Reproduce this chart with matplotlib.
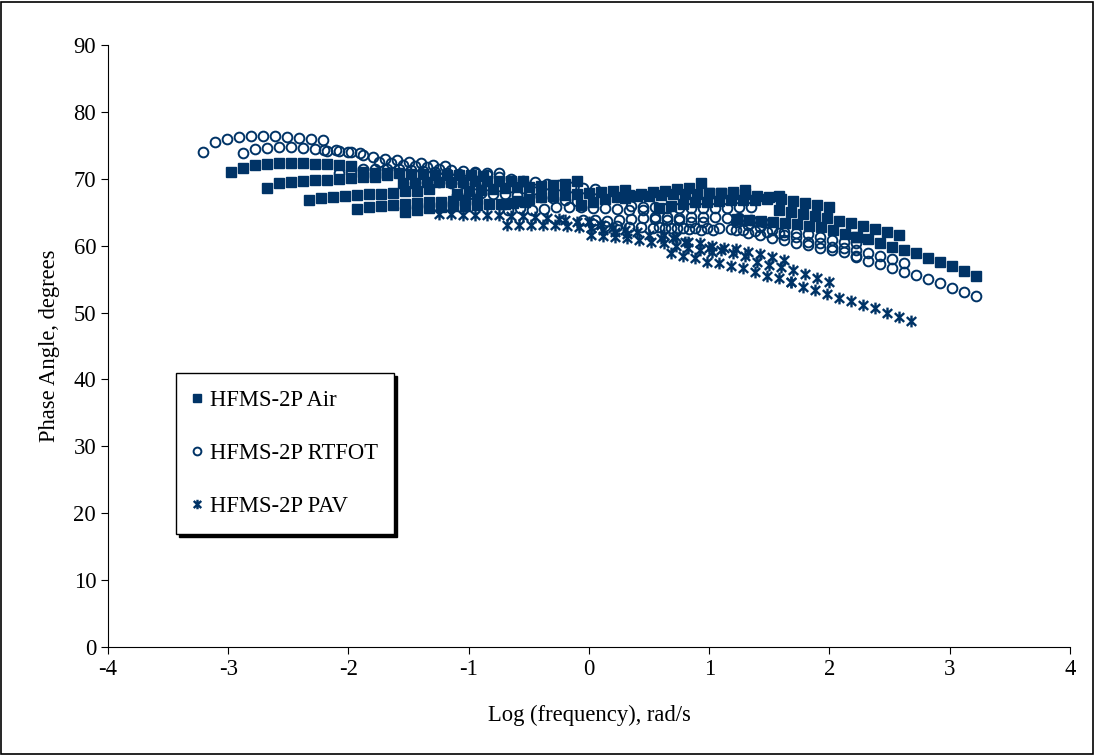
import matplotlib
matplotlib.use("Agg")
import matplotlib.pyplot as plt
from matplotlib.path import Path
from matplotlib.patches import Rectangle

plt.rcParams['font.family'] = ['Liberation Serif', 'DejaVu Serif']
plt.rcParams['axes.unicode_minus'] = False

# log frequency steps of one sweep (rad/s), shared by every temperature
sweep_logf = [0.0, 0.1, 0.2, 0.3, 0.4, 0.5, 0.6, 0.7, 0.8, 0.9, 1.0]

# HFMS-2P Air: shift of each sweep and phase angles (deg)
air_shift = [-2.98, -2.68, -2.33, -1.93, -1.53, -1.88, -1.55, -1.10, -0.70,
             -0.07, 0.30, 0.58, 1.00, 1.23, 1.58, 2.22]
air_phase = [
    [71.0, 71.6, 72.0, 72.2, 72.3, 72.3, 72.3, 72.2, 72.2, 72.0, 71.9],
    [68.6, 69.3, 69.5, 69.7, 69.8, 69.8, 70.0, 70.1, 70.2, 70.3, 70.5],
    [66.8, 67.1, 67.3, 67.4, 67.6, 67.7, 67.8, 67.9, 68.1, 68.2, 68.4],
    [65.5, 65.8, 65.9, 66.1, 66.2, 66.4, 66.5, 66.6, 66.7, 66.8, 67.0],
    [65.0, 65.4, 65.6, 65.8, 65.9, 66.0, 66.1, 66.2, 66.3, 66.4, 66.6],
    [71.0, 70.9, 70.8, 70.8, 70.7, 70.7, 70.6, 70.6, 70.5, 70.5, 70.4],
    [69.3, 69.4, 69.5, 69.5, 69.5, 69.5, 69.6, 69.6, 69.6, 69.6, 69.7],
    [67.8, 68.1, 68.3, 68.5, 68.6, 68.7, 68.8, 68.9, 69.0, 69.2, 69.6],
    [66.3, 66.7, 67.0, 67.3, 67.5, 67.6, 67.8, 67.9, 68.0, 68.1, 68.3],
    [66.1, 66.6, 67.0, 67.3, 67.6, 67.8, 68.0, 68.2, 68.4, 68.6, 69.3],
    [67.2, 67.4, 67.5, 67.6, 67.7, 67.8, 67.8, 67.9, 67.9, 68.0, 68.3],
    [65.6, 66.0, 66.3, 66.5, 66.6, 66.7, 66.8, 66.9, 66.9, 67.0, 67.4],
    [67.9, 67.9, 67.8, 67.7, 67.5, 67.3, 67.0, 66.7, 66.4, 66.1, 65.8],
    [64.0, 63.8, 63.7, 63.5, 63.4, 63.2, 62.9, 62.8, 62.3, 61.8, 61.3],
    [65.3, 65.0, 64.7, 64.4, 64.1, 63.7, 63.4, 62.9, 62.5, 62.0, 61.6],
    [61.3, 61.0, 60.4, 59.8, 59.3, 58.9, 58.1, 57.5, 56.9, 56.2, 55.5],
]

# HFMS-2P RTFOT
rtfot_shift = [-3.21, -2.88, -2.20, -2.08, -1.75, -1.45, -1.10, -0.95, -0.67,
               -0.05, 0.03, 0.35, 0.45, 0.58, 1.22, 1.22, 1.62, 2.22]
rtfot_phase = [
    [74.0, 75.5, 75.9, 76.2, 76.4, 76.4, 76.4, 76.2, 76.1, 75.9, 75.8],
    [73.8, 74.5, 74.6, 74.7, 74.7, 74.6, 74.4, 74.1, 74.1, 74.0, 73.6],
    [74.3, 74.3, 74.0, 73.8, 73.3, 73.0, 72.8, 72.5, 72.4, 72.1, 71.9],
    [70.8, 71.2, 71.4, 71.5, 71.5, 71.4, 71.3, 71.2, 71.0, 70.9, 70.7],
    [72.5, 72.3, 72.0, 71.9, 71.7, 71.5, 71.3, 71.2, 71.0, 70.9, 70.8],
    [69.3, 69.5, 69.5, 69.4, 69.3, 69.2, 69.0, 68.9, 68.7, 68.6, 68.4],
    [67.6, 67.8, 67.9, 67.8, 67.7, 67.6, 67.4, 67.3, 67.1, 66.9, 66.7],
    [70.8, 70.6, 70.3, 70.0, 69.7, 69.5, 69.2, 69.0, 68.8, 68.6, 68.4],
    [65.3, 65.6, 65.4, 65.5, 65.8, 65.8, 65.8, 65.7, 65.6, 65.5, 65.3],
    [63.8, 63.8, 63.7, 63.8, 64.0, 64.1, 64.0, 63.9, 63.8, 63.6, 63.5],
    [63.2, 63.0, 62.9, 62.8, 62.8, 62.7, 62.6, 62.6, 62.5, 62.4, 62.3],
    [66.0, 65.8, 65.8, 65.7, 65.7, 65.7, 65.6, 65.6, 65.7, 65.8, 65.8],
    [65.3, 64.3, 64.3, 64.2, 64.3, 64.3, 64.3, 64.2, 64.1, 63.8, 63.5],
    [62.8, 62.6, 62.6, 62.6, 62.6, 62.6, 62.5, 62.3, 62.2, 62.0, 61.9],
    [63.5, 63.1, 62.8, 62.3, 62.0, 61.9, 61.7, 61.3, 60.8, 60.6, 60.4],
    [62.3, 61.9, 61.6, 61.1, 60.8, 60.4, 60.1, 59.6, 59.3, 59.0, 58.5],
    [61.6, 61.3, 60.6, 60.4, 59.8, 59.6, 59.3, 58.9, 58.4, 58.0, 57.4],
    [58.3, 57.7, 57.2, 56.6, 56.1, 55.6, 55.0, 54.4, 53.7, 53.1, 52.5],
]

# HFMS-2P PAV
pav_shift = [-1.25, -0.68, -0.20, 0.02, 0.62, 0.68, 1.00, 1.68]
pav_phase = [
    [64.7, 64.7, 64.6, 64.6, 64.6, 64.6, 64.5, 64.5, 64.3, 64.2, 64.0],
    [63.1, 63.1, 63.1, 63.1, 63.1, 63.0, 62.8, 62.6, 62.3, 62.0, 61.8],
    [63.8, 63.6, 63.5, 63.1, 62.6, 62.3, 62.0, 61.6, 61.1, 61.1, 60.5],
    [61.6, 61.5, 61.3, 61.1, 60.8, 60.5, 60.4, 60.0, 59.7, 59.4, 59.1],
    [61.6, 61.3, 60.5, 60.4, 59.9, 59.6, 59.5, 59.0, 58.7, 58.3, 57.8],
    [58.9, 58.4, 58.1, 57.5, 57.4, 57.0, 56.7, 56.1, 55.5, 55.2, 54.6],
    [59.7, 59.3, 58.9, 58.4, 57.5, 57.1, 56.8, 56.4, 55.8, 55.2, 54.6],
    [54.6, 53.8, 53.4, 52.8, 52.2, 51.7, 51.1, 50.7, 49.9, 49.3, 48.7],
]


def flatten(shifts, phases):
    xs, ys = [], []
    for s, ph in zip(shifts, phases):
        for f, p in zip(sweep_logf, ph):
            xs.append(s + f)
            ys.append(p)
    return xs, ys


navy = '#003366'
fs = 16.3

# asterisk marker: vertical bar plus an X
star = Path([(0, -1), (0, 1), (-0.8, -0.75), (0.8, 0.75), (-0.8, 0.75), (0.8, -0.75)],
            [Path.MOVETO, Path.LINETO, Path.MOVETO, Path.LINETO, Path.MOVETO, Path.LINETO])

fig = plt.figure(figsize=(10.94, 7.55), dpi=100)
ax = fig.add_axes([0.0987, 0.143, 0.8793, 0.7974])

x, y = flatten(air_shift, air_phase)
ax.plot(x, y, 's', color=navy, ms=7.2, mec=navy, label='HFMS-2P Air')
x, y = flatten(rtfot_shift, rtfot_phase)
ax.plot(x, y, 'o', color=navy, ms=7.0, mfc='none', mec=navy, mew=1.4, label='HFMS-2P RTFOT')
x, y = flatten(pav_shift, pav_phase)
ax.plot(x, y, ls='none', marker=star, color=navy, ms=8.5, mec=navy, mew=1.7, label='HFMS-2P PAV')

ax.set_xlim(-4, 4)
ax.set_ylim(0, 90)
ax.set_xticks(range(-4, 5))
ax.set_yticks(range(0, 91, 10))
ax.spines['top'].set_visible(False)
ax.spines['right'].set_visible(False)
ax.tick_params(direction='out', length=5, labelsize=fs)
ax.set_xlabel('Log (frequency), rad/s', fontsize=fs, labelpad=18)
ax.set_ylabel('Phase Angle, degrees', fontsize=fs, labelpad=10)

leg = ax.legend(loc='upper left', bbox_to_anchor=(0.0707, 0.455), borderaxespad=0,
                fontsize=fs, labelspacing=1.43, borderpad=0.73, handlelength=0.4,
                handletextpad=0.37, markerscale=0.8, fancybox=False, framealpha=1,
                edgecolor='black', shadow={'color': 'black', 'alpha': 1})
leg.get_frame().set_linewidth(1.0)

fig.add_artist(Rectangle((0.001, 0.001), 0.998, 0.997, transform=fig.transFigure,
                         fill=False, edgecolor='black', lw=1.2))

fig.savefig('out.png', dpi=100)
